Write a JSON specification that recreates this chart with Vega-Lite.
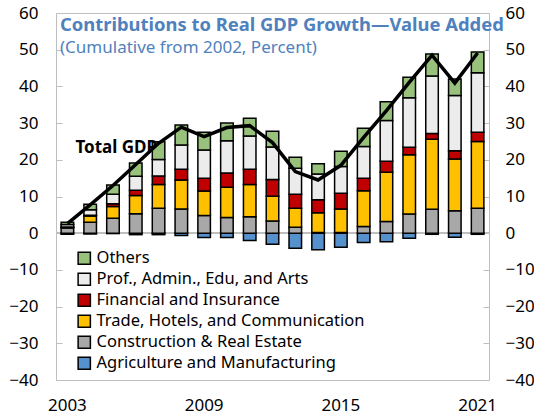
{
  "$schema": "https://vega.github.io/schema/vega-lite/v6.json",
  "width": 433,
  "height": 367,
  "autosize": {"type": "none"},
  "padding": {"left": 56, "top": 13, "right": 45, "bottom": 36},
  "background": "white",
  "config": {
    "font": "Noto Sans",
    "view": {"stroke": "#bfbfbf", "strokeWidth": 1},
    "axis": {"labelFont": "Noto Sans", "labelFontSize": 17, "labelColor": "#000000", "domainColor": "#bfbfbf", "tickColor": "#bfbfbf", "grid": false, "title": null},
    "legend": {"orient": "none", "legendX": 20, "legendY": 237, "symbolType": "square", "symbolSize": 150, "symbolStrokeColor": "#000000", "symbolStrokeWidth": 1.5, "labelFont": "Noto Sans", "labelFontSize": 16.5, "labelColor": "#000000", "labelLimit": 400, "rowPadding": 2, "labelOffset": 4, "title": null}
  },
  "title": {
    "text": "Contributions to Real GDP Growth—Value Added",
    "subtitle": "(Cumulative from 2002, Percent)",
    "anchor": "start",
    "frame": "group",
    "offset": -52,
    "dx": 4,
    "font": "Noto Sans",
    "subtitleFont": "Noto Sans",
    "fontSize": 18.4,
    "subtitleFontSize": 17,
    "fontWeight": "bold",
    "subtitleFontWeight": "normal",
    "color": "#4f81bd",
    "subtitleColor": "#4f81bd",
    "subtitlePadding": 6
  },
  "data": {
    "values": [
      {"Year": 2003, "agri": -0.3, "constr": 1.4, "trade": 0.2, "fin": 0.1, "prof": 0.7, "others": 0.6, "total": 2.6},
      {"Year": 2004, "agri": -0.2, "constr": 3.0, "trade": 1.7, "fin": 0.2, "prof": 1.5, "others": 1.5, "total": 7.7},
      {"Year": 2005, "agri": -0.1, "constr": 4.1, "trade": 3.2, "fin": 0.7, "prof": 2.6, "others": 2.5, "total": 13.0},
      {"Year": 2006, "agri": -0.4, "constr": 5.3, "trade": 5.0, "fin": 1.4, "prof": 3.8, "others": 3.6, "total": 18.7},
      {"Year": 2007, "agri": -0.4, "constr": 6.8, "trade": 6.5, "fin": 2.3, "prof": 4.5, "others": 4.8, "total": 24.5},
      {"Year": 2008, "agri": -0.6, "constr": 6.6, "trade": 7.9, "fin": 2.9, "prof": 6.6, "others": 5.5, "total": 28.9},
      {"Year": 2009, "agri": -1.2, "constr": 4.8, "trade": 6.7, "fin": 3.5, "prof": 7.7, "others": 4.8, "total": 26.3},
      {"Year": 2010, "agri": -1.2, "constr": 4.3, "trade": 8.2, "fin": 3.9, "prof": 8.8, "others": 4.8, "total": 28.8},
      {"Year": 2011, "agri": -2.0, "constr": 4.5, "trade": 8.8, "fin": 4.1, "prof": 9.1, "others": 4.8, "total": 29.3},
      {"Year": 2012, "agri": -3.0, "constr": 3.3, "trade": 6.8, "fin": 4.5, "prof": 8.9, "others": 4.3, "total": 24.7},
      {"Year": 2013, "agri": -4.1, "constr": 1.6, "trade": 5.2, "fin": 3.8, "prof": 7.1, "others": 3.0, "total": 16.8},
      {"Year": 2014, "agri": -4.5, "constr": 0.2, "trade": 5.4, "fin": 3.5, "prof": 7.0, "others": 2.8, "total": 14.5},
      {"Year": 2015, "agri": -3.8, "constr": 0.2, "trade": 6.4, "fin": 4.3, "prof": 7.3, "others": 4.1, "total": 18.5},
      {"Year": 2016, "agri": -2.5, "constr": 1.8, "trade": 9.8, "fin": 3.4, "prof": 8.6, "others": 5.0, "total": 26.1},
      {"Year": 2017, "agri": -2.3, "constr": 3.2, "trade": 13.4, "fin": 3.0, "prof": 11.1, "others": 5.1, "total": 33.4},
      {"Year": 2018, "agri": -1.4, "constr": 5.2, "trade": 16.2, "fin": 2.0, "prof": 13.5, "others": 5.6, "total": 41.1},
      {"Year": 2019, "agri": -0.3, "constr": 6.5, "trade": 19.1, "fin": 1.6, "prof": 15.6, "others": 6.0, "total": 48.5},
      {"Year": 2020, "agri": -1.1, "constr": 6.1, "trade": 14.1, "fin": 2.3, "prof": 15.0, "others": 4.5, "total": 40.9},
      {"Year": 2021, "agri": -0.3, "constr": 6.8, "trade": 18.2, "fin": 2.5, "prof": 16.2, "others": 5.7, "total": 49.1}
    ]
  },
  "resolve": {"axis": {"y": "independent"}},
  "layer": [
    {
      "mark": {"type": "rule", "color": "#bfbfbf", "strokeWidth": 1},
      "encoding": {"y": {"datum": 0, "type": "quantitative", "axis": null}}
    },
    {
      "transform": [
        {"fold": ["agri", "constr", "trade", "fin", "prof", "others"], "as": ["Sector", "Value"]},
        {"calculate": "indexof(['agri','constr','trade','fin','prof','others'], datum.Sector)", "as": "k"}
      ],
      "mark": {"type": "bar", "stroke": "#000000", "strokeWidth": 1.5},
      "encoding": {
        "x": {
          "field": "Year", "type": "ordinal",
          "scale": {"paddingInner": 0.45, "paddingOuter": 0.225},
          "axis": {"values": [2003, 2009, 2015, 2021], "labelAngle": 0, "ticks": false, "domain": false, "labelPadding": 17, "title": null}
        },
        "y": {
          "field": "Value", "type": "quantitative", "stack": "zero",
          "scale": {"domain": [-40, 60], "nice": false},
          "axis": {"orient": "left", "values": [-40, -30, -20, -10, 0, 10, 20, 30, 40, 50, 60], "tickSize": -6, "labelPadding": 24, "domain": false, "title": null}
        },
        "color": {
          "field": "Sector", "type": "nominal",
          "scale": {
            "domain": ["others", "prof", "fin", "trade", "constr", "agri"],
            "range": ["#98c27b", "#ececec", "#c00000", "#ffc000", "#a8a8a8", "#5591cc"]
          },
          "legend": {"labelExpr": "{'others':'Others','prof':'Prof., Admin., Edu, and Arts','fin':'Financial and Insurance','trade':'Trade, Hotels, and Communication','constr':'Construction & Real Estate','agri':'Agriculture and Manufacturing'}[datum.label]"}
        },
        "order": {"field": "k", "type": "quantitative", "sort": "ascending"}
      }
    },
    {
      "mark": {"type": "line", "color": "#000000", "strokeWidth": 3.5},
      "encoding": {
        "x": {"field": "Year", "type": "ordinal"},
        "y": {
          "field": "total", "type": "quantitative",
          "axis": {"orient": "right", "values": [-40, -30, -20, -10, 0, 10, 20, 30, 40, 50, 60], "tickSize": -6, "labelPadding": 22, "domain": false, "title": null}
        }
      }
    },
    {
      "data": {"values": [{"label": "Total GDP"}]},
      "mark": {"type": "text", "fontWeight": "bold", "fontSize": 17, "font": "Noto Sans", "align": "left", "baseline": "middle", "dx": 8, "dy": 2, "color": "#000000"},
      "encoding": {
        "text": {"field": "label"},
        "x": {"datum": 2003, "type": "ordinal"},
        "y": {"datum": 23.8, "type": "quantitative", "axis": null}
      }
    }
  ]
}
